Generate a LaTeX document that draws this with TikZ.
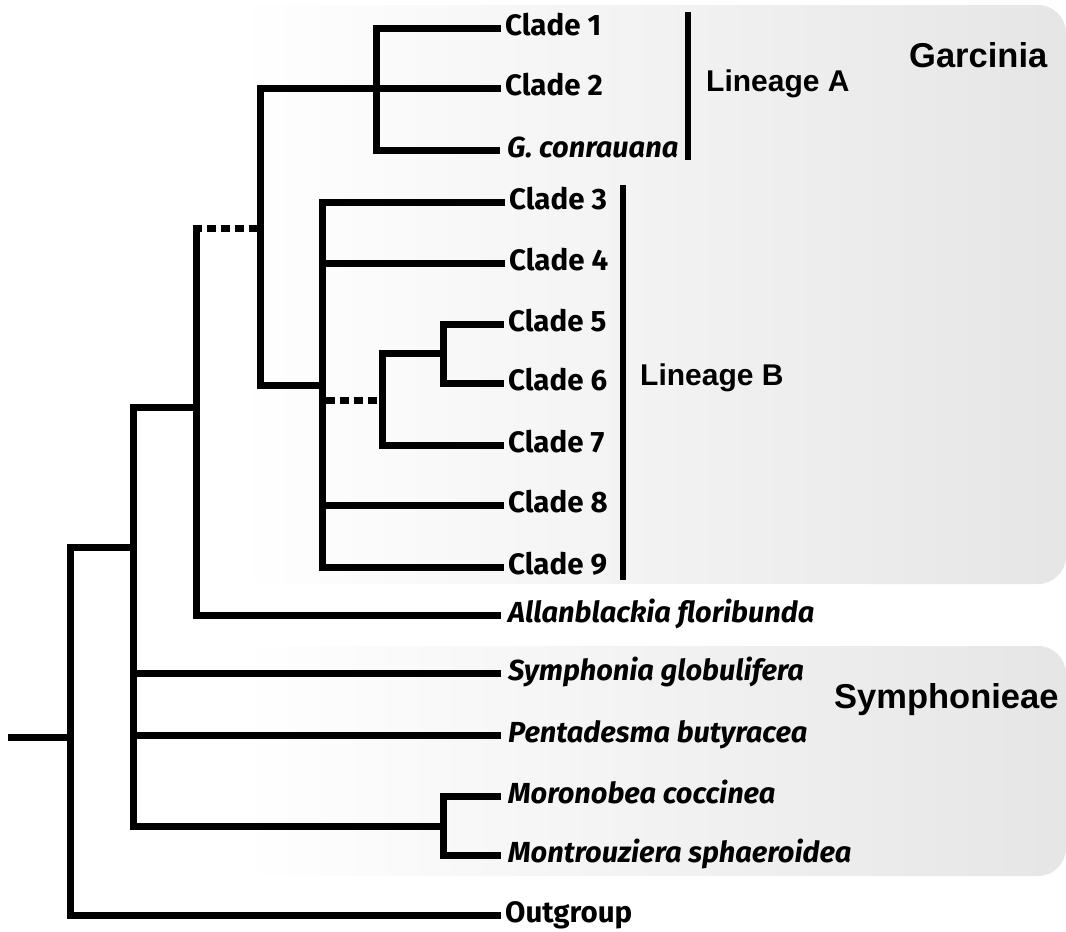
\documentclass[tikz,border=0pt]{standalone}
\usepackage{fontspec}
\setmainfont{Fira Sans}
\newfontfamily\grpfont{Liberation Sans}
\begin{document}
\begin{tikzpicture}[x=1pt,y=-1pt,
  branch/.style={line width=7pt,line join=miter},
  dashbranch/.style={line width=7pt,dash pattern=on 9pt off 5pt},
  barline/.style={line width=6pt},
  tip/.style={anchor=west,inner ysep=2pt,inner xsep=4pt,text height=21pt,text depth=7pt,font=\bfseries\fontsize{29.5}{32}\selectfont},
  tipit/.style={tip,inner xsep=7pt,font=\bfseries\itshape\fontsize{29}{32}\selectfont},
  grp/.style={anchor=west,inner sep=0pt,font=\grpfont\bfseries\fontsize{34.5}{40}\selectfont},
  lin/.style={anchor=west,inner sep=0pt,font=\grpfont\bfseries\fontsize{30}{34}\selectfont},
  panel/.style={rounded corners=28pt,left color=white,right color=black!10,draw=none}]
\useasboundingbox (0,0) rectangle (1066,932);
% background panels
\path[panel] (237,5) rectangle (1066,584);
\path[panel] (240,646) rectangle (1066,876);
% tip labels
\node[tip] (c1) at (501,28) {Clade 1};
\node[tip] (c2) at (501,88) {Clade 2};
\node[tipit] (gc) at (500,150) {G. conrauana};
\node[tip] (c3) at (505,202) {Clade 3};
\node[tip] (c4) at (505,263) {Clade 4};
\node[tip] (c5) at (504,324) {Clade 5};
\node[tip] (c6) at (504,383) {Clade 6};
\node[tip] (c7) at (504,445) {Clade 7};
\node[tip] (c8) at (504,505) {Clade 8};
\node[tip] (c9) at (504,567) {Clade 9};
\node[tipit] (al) at (501,615) {Allanblackia floribunda};
\node[tipit] (sy) at (501,673) {Symphonia globulifera};
\node[tipit] (pe) at (501,735) {Pentadesma butyracea};
\node[tipit] (mo) at (501,796) {Moronobea coccinea};
\node[tipit] (mt) at (501,855) {Montrouziera sphaeroidea};
\node[tip] (og) at (501,915) {Outgroup};
% group labels
\node[lin] (la) at (706,84) {Lineage A};
\node[lin] (lb) at (640,378) {Lineage B};
\node[grp] (ga) at (909,55) {Garcinia};
\node[grp] (sp) at (834,700) {Symphonieae};
% internal nodes
\coordinate (A) at (376,88);
\coordinate (AB) at (260,88);
\coordinate (B) at (322,385);
\coordinate (Bd) at (322,400);
\coordinate (C) at (382,400);
\coordinate (D) at (443,353);
\coordinate (E) at (196,228);
\coordinate (Ed) at (260,228);
\coordinate (F) at (196,407);
\coordinate (G) at (133,547);
\coordinate (M) at (443,826);
\coordinate (R) at (70,737);
\coordinate (root) at (8,737);
% lineage A
\draw[branch] (c1.west) -| (A) |- (gc.west);
\draw[branch] (c2.west) -- (A);
\draw[branch] (A) -- (AB) |- (B);
% lineage B
\draw[branch] (c3.west) -| (B) |- (c9.west);
\draw[branch] (c4.west) -- (c4.west -| B);
\draw[branch] (c8.west) -- (c8.west -| B);
\draw[branch] (c5.west) -| (D) |- (c6.west);
\draw[branch] (D) -- (C |- D) |- (c7.west);
\draw[dashbranch] ([xshift=3.5pt]Bd) -- (C);
% Garcinia + Allanblackia
\draw[dashbranch] ([xshift=-3.5pt]E) -- (Ed);
\draw[branch] (E) |- (al.west);
% Symphonieae
\draw[branch] (F) -| (M -| G) -- (M);
\draw[branch] (mo.west) -| (M) |- (mt.west);
\draw[branch] (sy.west) -- (sy.west -| G);
\draw[branch] (pe.west) -- (pe.west -| G);
% root
\draw[branch] (G) -- (G -| R) |- (og.west);
\draw[branch] (root) -- (R);
% lineage bars
\draw[barline] (688,12) -- (688,160);
\draw[barline] (623,185) -- (623,580);
\end{tikzpicture}
\end{document}
